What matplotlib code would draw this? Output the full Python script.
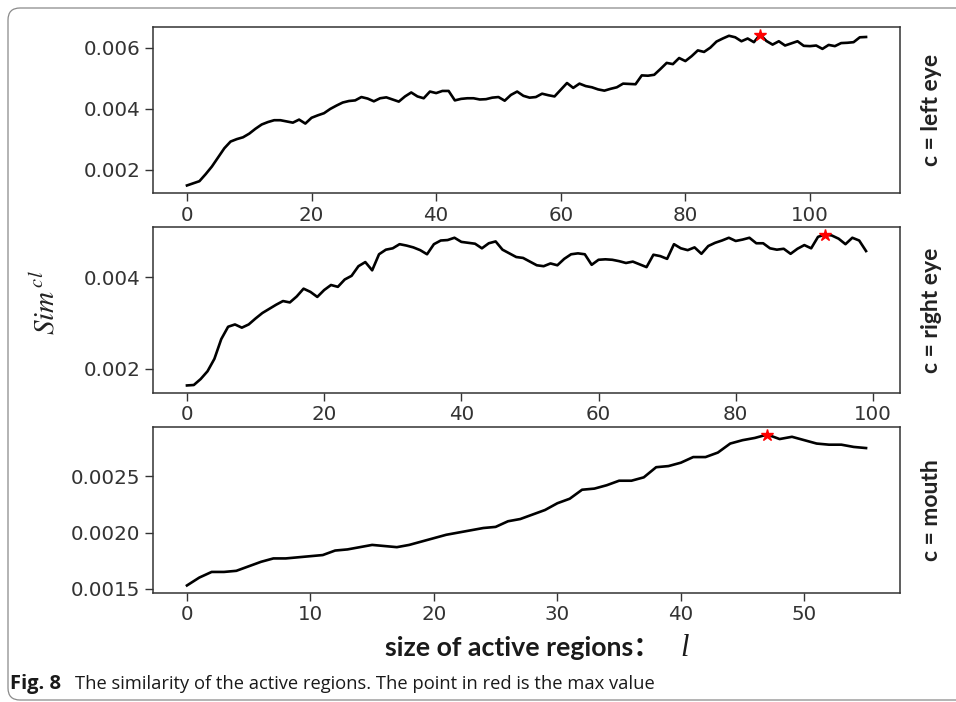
import matplotlib

matplotlib.use("Agg")
import matplotlib.pyplot as plt
from matplotlib.patches import FancyBboxPatch
from matplotlib.ticker import FormatStrFormatter

plt.rcParams["mathtext.fontset"] = "stix"

# similarity per region size
left_eye = [
    0.00148, 0.00155, 0.00162, 0.00185, 0.00210, 0.00240, 0.00270, 0.00292, 0.00300, 0.00306,
    0.00318, 0.00334, 0.00348, 0.00356, 0.00362, 0.00362, 0.00358, 0.00354, 0.00364, 0.00351,
    0.00370, 0.00378, 0.00385, 0.00399, 0.00410, 0.00420, 0.00425, 0.00427, 0.00438, 0.00433,
    0.00424, 0.00434, 0.00437, 0.00430, 0.00423, 0.00440, 0.00453, 0.00440, 0.00434, 0.00456,
    0.00451, 0.00458, 0.00458, 0.00427, 0.00432, 0.00434, 0.00434, 0.00430, 0.00431, 0.00436,
    0.00438, 0.00426, 0.00445, 0.00456, 0.00442, 0.00436, 0.00438, 0.00449, 0.00444, 0.00440,
    0.00462, 0.00484, 0.00468, 0.00482, 0.00474, 0.00470, 0.00463, 0.00459, 0.00465, 0.00470,
    0.00482, 0.00481, 0.00480, 0.00509, 0.00508, 0.00511, 0.00530, 0.00550, 0.00546, 0.00566,
    0.00556, 0.00572, 0.00591, 0.00586, 0.00600, 0.00620, 0.00630, 0.00639, 0.00634, 0.00621,
    0.00630, 0.00618, 0.00643, 0.00622, 0.00610, 0.00621, 0.00607, 0.00614, 0.00621, 0.00606,
    0.00605, 0.00607, 0.00596, 0.00609, 0.00605, 0.00615, 0.00616, 0.00618, 0.00634, 0.00635,
]
right_eye = [
    0.00164, 0.00165, 0.00178, 0.00195, 0.00222, 0.00265, 0.00292, 0.00297, 0.00290, 0.00297,
    0.00310, 0.00322, 0.00331, 0.00340, 0.00348, 0.00345, 0.00358, 0.00375, 0.00368, 0.00357,
    0.00372, 0.00383, 0.00379, 0.00395, 0.00403, 0.00424, 0.00433, 0.00415, 0.00450, 0.00460,
    0.00463, 0.00472, 0.00469, 0.00465, 0.00459, 0.00450, 0.00472, 0.00480, 0.00481, 0.00486,
    0.00477, 0.00475, 0.00473, 0.00463, 0.00474, 0.00478, 0.00460, 0.00452, 0.00444, 0.00442,
    0.00434, 0.00426, 0.00424, 0.00430, 0.00426, 0.00440, 0.00450, 0.00452, 0.00450, 0.00427,
    0.00438, 0.00439, 0.00438, 0.00435, 0.00431, 0.00434, 0.00428, 0.00422, 0.00449, 0.00446,
    0.00440, 0.00472, 0.00463, 0.00459, 0.00465, 0.00451, 0.00468, 0.00475, 0.00480, 0.00486,
    0.00479, 0.00482, 0.00486, 0.00474, 0.00474, 0.00463, 0.00460, 0.00462, 0.00451, 0.00462,
    0.00470, 0.00463, 0.00488, 0.00493, 0.00491, 0.00484, 0.00472, 0.00486, 0.00480, 0.00457,
]
mouth = [
    0.00153, 0.00160, 0.00165, 0.00165, 0.00166, 0.00170, 0.00174, 0.00177, 0.00177, 0.00178,
    0.00179, 0.00180, 0.00184, 0.00185, 0.00187, 0.00189, 0.00188, 0.00187, 0.00189, 0.00192,
    0.00195, 0.00198, 0.00200, 0.00202, 0.00204, 0.00205, 0.00210, 0.00212, 0.00216, 0.00220,
    0.00226, 0.00230, 0.00238, 0.00239, 0.00242, 0.00246, 0.00246, 0.00249, 0.00258, 0.00259,
    0.00262, 0.00267, 0.00267, 0.00271, 0.00279, 0.00282, 0.00284, 0.00287, 0.00283, 0.00285,
    0.00282, 0.00279, 0.00278, 0.00278, 0.00276, 0.00275,
]

series = [left_eye, right_eye, mouth]
row_labels = ["c = left eye", "c = right eye", "c = mouth"]
y_ticks = [[0.002, 0.004, 0.006], [0.002, 0.004], [0.0015, 0.0020, 0.0025]]
y_formats = ["%.3f", "%.3f", "%.4f"]

fig = plt.figure(figsize=(9.56, 7.02), dpi=100)

# rounded frame around the figure + caption
frame = FancyBboxPatch((0.08, 0.02), 9.8, 6.92, boxstyle="round,pad=0,rounding_size=0.12",
                       transform=fig.dpi_scale_trans, fill=False, edgecolor="#8a8a8a", lw=0.9)
fig.patches.append(frame)

tops = [27, 227, 427]
for k, (vals, label) in enumerate(zip(series, row_labels)):
    top = tops[k]
    ax = fig.add_axes([153 / 956, 1 - (top + 166) / 702, 747 / 956, 166 / 702])
    xs = list(range(len(vals)))
    ax.plot(xs, vals, color="black", lw=1.9)
    best = max(xs, key=lambda i: vals[i])
    ax.plot(best, vals[best], marker="*", color="red", markersize=9, ls="none")
    ax.set_yticks(y_ticks[k])
    ax.yaxis.set_major_formatter(FormatStrFormatter(y_formats[k]))
    ax.tick_params(labelsize=14.3, length=5.5, width=1.0, colors="#333333")
    for s in ax.spines.values():
        s.set_linewidth(1.1)
        s.set_color("#333333")
    fig.text(932 / 956, 1 - (top + 83) / 702, label, rotation=90, ha="center", va="center",
             fontsize=16.5, fontweight="bold", family="Lato", color="#222222")

fig.text(46 / 956, 1 - 303 / 702, r"$Sim^{\,cl}$", rotation=90, ha="center", va="center",
         fontsize=21, color="#222222")

fig.text(385 / 956, 1 - 656 / 702, "size of active regions：", ha="left", va="baseline",
         fontsize=19.3, fontweight="bold", family=["Lato", "Noto Sans CJK SC"], color="#1a1a1a")
fig.text(680 / 956, 1 - 656 / 702, "l", ha="left", va="baseline", fontsize=22,
         style="italic", family="Liberation Serif", color="#1a1a1a")

fig.text(10 / 956, 1 - 689 / 702, "Fig. 8", ha="left", va="baseline", fontsize=14.5,
         fontweight="bold", family="Open Sans", color="#1a1a1a")
fig.text(75 / 956, 1 - 689 / 702,
         "The similarity of the active regions. The point in red is the max value",
         ha="left", va="baseline", fontsize=13.2, family="Open Sans", color="#1a1a1a")

fig.savefig("out.png", dpi=100)
